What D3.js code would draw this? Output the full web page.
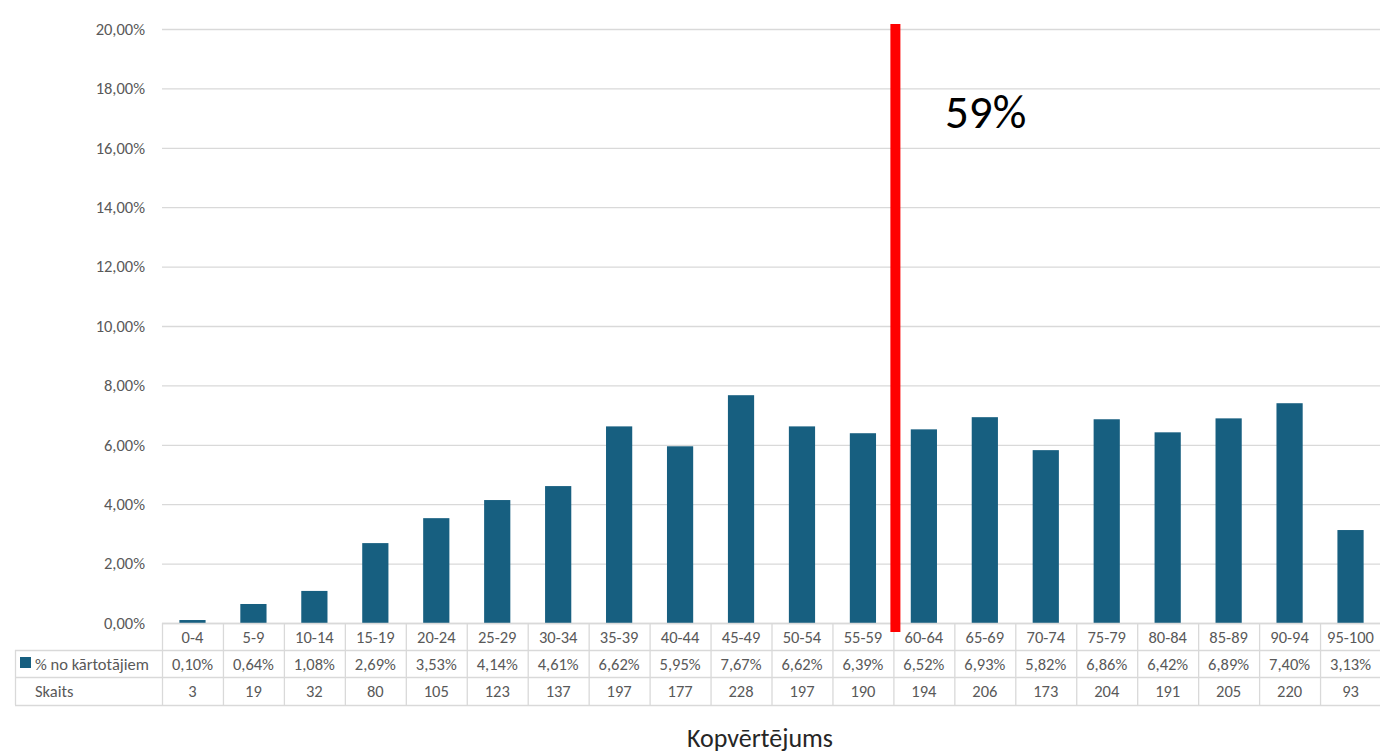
<!DOCTYPE html>
<html><head><meta charset="utf-8">
<script src="https://cdn.jsdelivr.net/npm/d3@7"></script>
<style>
html,body{margin:0;padding:0;background:#fff;}
svg{display:block;font-family:Carlito,Calibri,Lato,sans-serif;}
</style></head>
<body>
<svg id="chart" width="1380" height="753"></svg>
<script>
const categories = ["0-4","5-9","10-14","15-19","20-24","25-29","30-34","35-39","40-44","45-49","50-54","55-59","60-64","65-69","70-74","75-79","80-84","85-89","90-94","95-100"];
const percentValues = [0.10,0.64,1.08,2.69,3.53,4.14,4.61,6.62,5.95,7.67,6.62,6.39,6.52,6.93,5.82,6.86,6.42,6.89,7.40,3.13];
const counts = [3,19,32,80,105,123,137,197,177,228,197,190,194,206,173,204,191,205,220,93];
const yTicks = [0,2,4,6,8,10,12,14,16,18,20];
const seriesName = "% no kārtotājiem";
const countName = "Skaits";
const xAxisTitle = "Kopvērtējums";
const markerLabel = "59%";
const markerAfterCategory = "55-59";

const svg = d3.select("#chart");
const locale = d3.formatLocale({decimal:",", thousands:" ", grouping:[3], currency:["","€"]});
const fmt = v => locale.format(".2f")(v) + "%";

const plotLeft = 162, plotRight = 1381, plotTop = 29, plotBottom = 623;
const tableLeft = 15;
const rowH = [623, 650, 677, 705];
const barColor = "#175f80";
const gridColor = "#d9d9d9";
const textColor = "#595959";
const fs = 16.5;

const x = d3.scaleBand().domain(categories).range([plotLeft, plotRight]).paddingInner(0.57).paddingOuter(0.285);
const y = d3.scaleLinear().domain([0,20]).range([plotBottom, plotTop]);
const step = x.step();

// gridlines
svg.append("g").selectAll("line").data(yTicks).join("line")
  .attr("x1", plotLeft).attr("x2", plotRight)
  .attr("y1", d => y(d)+0.5).attr("y2", d => y(d)+0.5)
  .attr("stroke", gridColor).attr("stroke-width", 1.3);

// y axis labels
const yAxis = d3.axisLeft(y).tickValues(yTicks).tickFormat(fmt).tickSize(0).tickPadding(17);
const ya = svg.append("g").attr("transform", `translate(${plotLeft},0)`).call(yAxis);
ya.select(".domain").remove();
ya.selectAll("text").attr("font-size", fs).attr("fill", textColor).attr("font-family","Carlito,Calibri,Lato,sans-serif");

// bars
svg.append("g").selectAll("rect").data(categories).join("rect")
  .attr("x", d => x(d)).attr("width", x.bandwidth())
  .attr("y", (d,i) => y(percentValues[i]))
  .attr("height", (d,i) => y(0) - y(percentValues[i]))
  .attr("fill", barColor);

// table
const tg = svg.append("g");
tg.append("line").attr("x1", plotLeft).attr("x2", plotRight).attr("y1", rowH[0]+0.5).attr("y2", rowH[0]+0.5).attr("stroke", gridColor).attr("stroke-width",1.3);
[rowH[1], rowH[2], rowH[3]].forEach(yy => {
  tg.append("line").attr("x1", tableLeft).attr("x2", plotRight).attr("y1", yy+0.5).attr("y2", yy+0.5).attr("stroke", gridColor).attr("stroke-width",1.3);
});
const boundaries = categories.map(c => x(c) - x.paddingInner()*step/2);
boundaries.push(plotRight);
tg.selectAll("line.v").data(boundaries).join("line").attr("class","v")
  .attr("x1", d => d+0.5).attr("x2", d => d+0.5).attr("y1", rowH[0]).attr("y2", rowH[3])
  .attr("stroke", gridColor).attr("stroke-width",1.3);
tg.append("line").attr("x1", tableLeft+0.5).attr("x2", tableLeft+0.5).attr("y1", rowH[1]).attr("y2", rowH[3]).attr("stroke", gridColor).attr("stroke-width",1.3);

const rows = [categories, percentValues.map(fmt), counts.map(String)];
rows.forEach((vals, r) => {
  tg.append("g").selectAll("text").data(vals).join("text")
    .attr("x", (d,i) => x(categories[i]) + x.bandwidth()/2)
    .attr("y", (rowH[r]+rowH[r+1])/2 + 6)
    .attr("text-anchor","middle").attr("font-size",fs).attr("fill",textColor)
    .text(d => d);
});
tg.append("rect").attr("x",20).attr("y",657).attr("width",11).attr("height",11).attr("fill",barColor);
tg.append("text").attr("x",35).attr("y",(rowH[1]+rowH[2])/2+6).attr("font-size",fs).attr("fill",textColor).text(seriesName);
tg.append("text").attr("x",35).attr("y",(rowH[2]+rowH[3])/2+6).attr("font-size",fs).attr("fill",textColor).text(countName);

// axis title
svg.append("text").attr("x",760).attr("y",747).attr("text-anchor","middle").attr("font-size",26).attr("fill","#262626").text(xAxisTitle);

// red marker line
const mx = x(markerAfterCategory) + x.bandwidth() + x.paddingInner()*step/2 + 2;
svg.append("rect").attr("x", mx-5).attr("y", 24).attr("width", 10).attr("height", 632-24).attr("fill", "#ff0000");
svg.append("text").attr("x", 945).attr("y", 128).attr("font-size", 47).attr("fill","#000").attr("font-family","Carlito,Calibri,Lato,sans-serif").text(markerLabel);
</script>
</body></html>
